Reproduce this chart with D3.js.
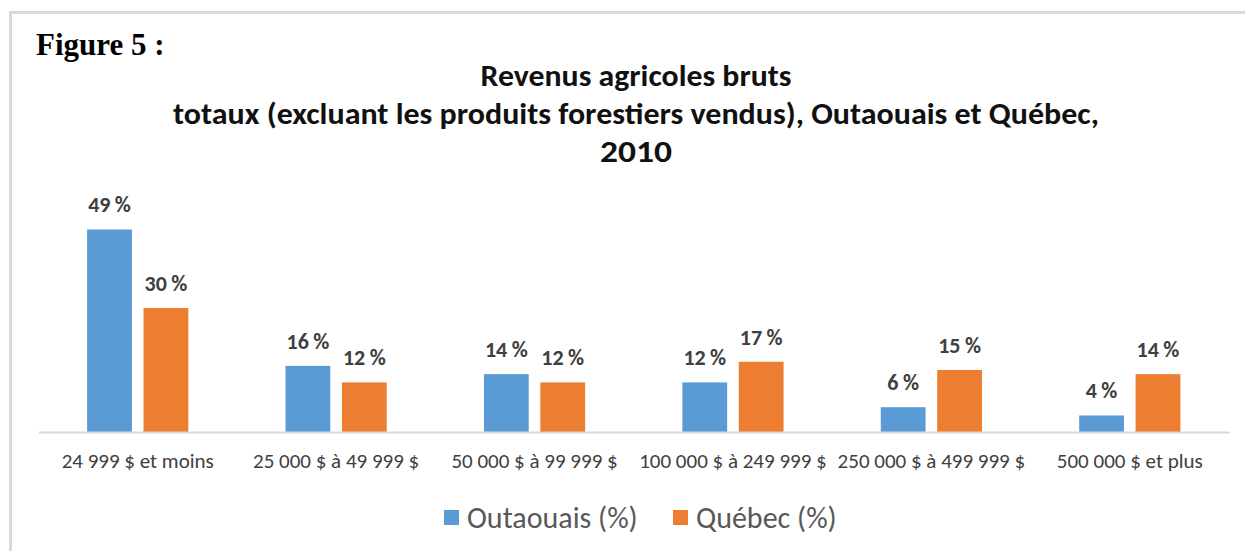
<!DOCTYPE html>
<html><head><meta charset="utf-8">
<script src="https://cdn.jsdelivr.net/npm/d3@7"></script>
<style>html,body{margin:0;padding:0;background:#fff;}svg{display:block;}</style>
</head><body>
<script>
const categories = ["24 999 $ et moins","25 000 $ à 49 999 $","50 000 $ à 99 999 $","100 000 $ à 249 999 $","250 000 $ à 499 999 $","500 000 $ et plus"];
const seriesNames = ["Outaouais (%)","Québec (%)"];
const outaouais = [49, 16, 14, 12, 6, 4];
const quebec = [30, 12, 12, 17, 15, 14];
const titleLines = ["Revenus agricoles bruts","totaux (excluant les produits forestiers vendus), Outaouais et Québec,","2010"];
const figureLabel = "Figure 5 :";

const W = 1245, H = 551;
const colors = ["#5B9BD5", "#ED7D31"];
const sans = "Carlito, Calibri, Lato, 'Open Sans', sans-serif";

const svg = d3.select("body").append("svg").attr("width", W).attr("height", H);
svg.append("rect").attr("width", W).attr("height", H).attr("fill", "#fff");
// frame
svg.append("rect").attr("x", 9).attr("y", 11).attr("width", W).attr("height", 3).attr("fill", "#d9d9d9");
svg.append("rect").attr("x", 9).attr("y", 11).attr("width", 3).attr("height", H).attr("fill", "#d9d9d9");

svg.append("text").attr("x", 36).attr("y", 55)
  .attr("font-family", "'Liberation Serif', 'Times New Roman', serif").attr("font-weight", "bold")
  .attr("font-size", 31).attr("fill", "#000").text(figureLabel);

const titleY = [86, 124, 162];
const titleW = [311, 926, 72];
svg.append("g").selectAll("text").data(titleLines).join("text")
  .attr("x", 636).attr("y", (d, i) => titleY[i]).attr("text-anchor", "middle")
  .attr("font-family", sans).attr("font-weight", "bold").attr("font-size", 30.5)
  .attr("fill", "#111")
  .attr("textLength", (d, i) => titleW[i]).attr("lengthAdjust", "spacingAndGlyphs")
  .text(d => d);

const data = categories.map((c, i) => ({cat: c, vals: [outaouais[i], quebec[i]]}));

const x0 = d3.scaleBand().domain(categories).range([38.5, 1229]).paddingInner(0.49).paddingOuter(0.245);
const x1 = d3.scaleBand().domain(seriesNames).range([0, x0.bandwidth()]).paddingInner(0.206).paddingOuter(0);
const y = d3.scaleLinear().domain([0, 60]).range([432, 432 - 60 * 4.133]);

const groups = svg.append("g").selectAll("g").data(data).join("g")
  .attr("transform", d => `translate(${x0(d.cat)},0)`);

groups.selectAll("rect").data(d => d.vals.map((v, j) => ({s: seriesNames[j], v, j}))).join("rect")
  .attr("x", d => x1(d.s)).attr("width", x1.bandwidth())
  .attr("y", d => y(d.v)).attr("height", d => y(0) - y(d.v))
  .attr("fill", d => colors[d.j]);

groups.selectAll("text").data(d => d.vals.map((v, j) => ({s: seriesNames[j], v, j}))).join("text")
  .attr("x", d => x1(d.s) + x1.bandwidth() / 2).attr("y", d => y(d.v) - 17)
  .attr("text-anchor", "middle").attr("font-family", sans).attr("font-weight", "bold")
  .attr("font-size", 22).attr("fill", "#404040")
  .text(d => d3.format(".0f")(d.v) + "\u2009%");

// axis
const axis = d3.axisBottom(x0).tickSize(0).tickPadding(0);
const ax = svg.append("g").attr("transform", `translate(0,${y(0)})`).call(axis);
ax.select(".domain").attr("stroke", "#d9d9d9").attr("stroke-width", 2);
ax.selectAll(".tick text").attr("font-family", sans).attr("font-size", 21)
  .attr("fill", "#404040").attr("dy", null).attr("y", 36);

// legend
const legX = [444, 673];
const leg = svg.append("g").selectAll("g").data(seriesNames).join("g")
  .attr("transform", (d, i) => `translate(${legX[i]},0)`);
leg.append("rect").attr("x", 0).attr("y", 510).attr("width", 15).attr("height", 15)
  .attr("fill", (d, i) => colors[i]);
leg.append("text").attr("x", 23).attr("y", 528).attr("font-family", sans)
  .attr("font-size", 30).attr("fill", "#595959").text(d => d);
</script>
</body></html>
